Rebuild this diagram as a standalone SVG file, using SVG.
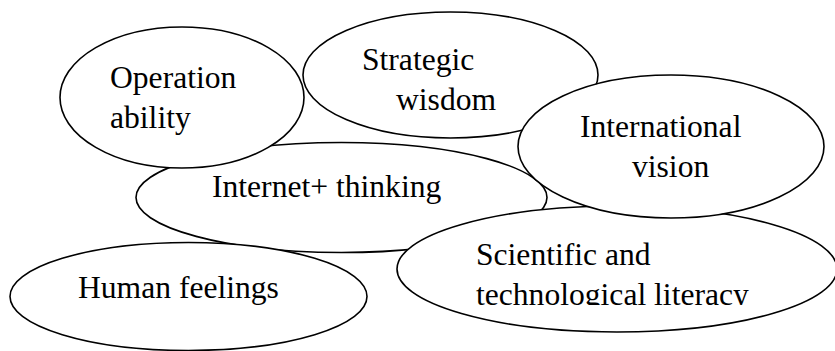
<svg xmlns="http://www.w3.org/2000/svg" width="835" height="351" viewBox="0 0 835 351">
<style>
.n{fill:#fff;stroke:#000;stroke-width:1.6}
.t{font-family:"Liberation Serif","Times New Roman",serif;font-size:31.6px;fill:#000}
</style>
<defs>
<clipPath id="clipSci"><rect x="400" y="230" width="435" height="75"/></clipPath>
</defs>
<rect width="835" height="351" fill="#fff"/>
<g id="connectors"></g>
<g id="internet">
<ellipse class="n" cx="341.5" cy="197.5" rx="205.5" ry="55"/>
<text class="t" x="212" y="197">Internet+ thinking</text>
</g>
<g id="human">
<ellipse class="n" cx="188.5" cy="296.5" rx="178.5" ry="54"/>
<text class="t" x="78" y="298">Human feelings</text>
</g>
<g id="operation">
<ellipse class="n" cx="182" cy="97.5" rx="122" ry="70.5"/>
<text class="t" x="110" y="88">Operation</text>
<text class="t" x="110" y="128">ability</text>
</g>
<g id="strategic">
<ellipse class="n" cx="450.5" cy="75" rx="147.5" ry="63"/>
<text class="t" x="362" y="70">Strategic</text>
<text class="t" x="396" y="110">wisdom</text>
</g>
<g id="scientific">
<ellipse class="n" cx="617" cy="269" rx="220" ry="63"/>
<g clip-path="url(#clipSci)">
<text class="t" x="476" y="265">Scientific and</text>
<text class="t" x="476" y="305">technological literacy</text>
</g>
</g>
<g id="international">
<ellipse class="n" cx="671" cy="146.5" rx="153" ry="71.5"/>
<text class="t" x="580" y="137">International</text>
<text class="t" x="632" y="177">vision</text>
</g>
</svg>
